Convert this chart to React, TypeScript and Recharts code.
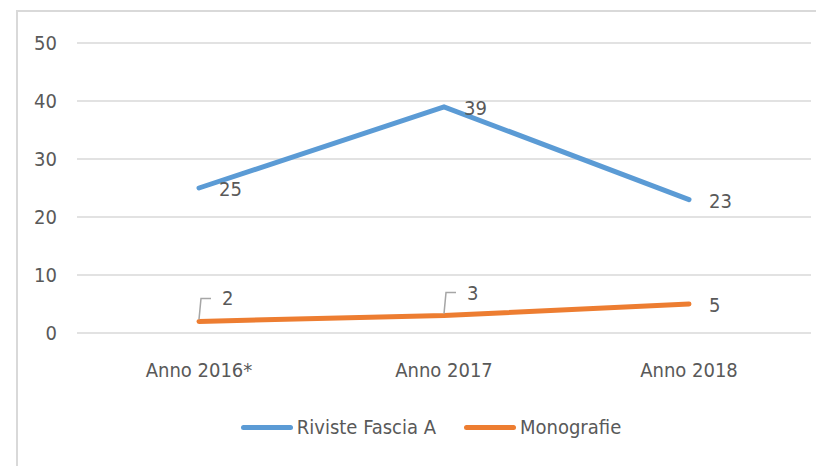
import { LineChart, Line, XAxis, YAxis, CartesianGrid, Legend } from "recharts";

const years = ["Anno 2016*", "Anno 2017", "Anno 2018"];
const riviste = [25, 39, 23];
const monografie = [2, 3, 5];
const yTicks = [0, 10, 20, 30, 40, 50];

const BLUE = "#5b9bd5";
const ORANGE = "#ed7d31";
const TEXT = "#595959";
const GRID = "#d9d9d9";
const FONT = "'DejaVu Sans Condensed', 'DejaVu Sans', sans-serif";
const FS = 20;

const data = years.map((name, i) => ({
  name,
  riviste: riviste[i],
  monografie: monografie[i],
}));

// labels to the right of the point; the first two orange ones sit higher with a leader
function makeLabel(leader: boolean) {
  return (props: any) => {
    const { x, y, value, index } = props;
    if (leader && index < 2) {
      const lx = x + 23;
      const ly = y - 23;
      return (
        <g>
          <path
            d={`M${x},${y - 2} L${x + 2},${ly} L${x + 12},${ly}`}
            fill="none"
            stroke="#a6a6a6"
            strokeWidth={1.5}
          />
          <text x={lx} y={ly} dy="0.35em" fill={TEXT} fontSize={FS} fontFamily={FONT}>
            {value}
          </text>
        </g>
      );
    }
    return (
      <text x={x + 20} y={y + 1} dy="0.35em" fill={TEXT} fontSize={FS} fontFamily={FONT}>
        {value}
      </text>
    );
  };
}

function LegendBox() {
  const items = [
    { label: "Riviste Fascia A", color: BLUE },
    { label: "Monografie", color: ORANGE },
  ];
  return (
    <div style={{ display: "flex", justifyContent: "center", gap: 28, fontFamily: FONT, fontSize: FS, color: TEXT, paddingLeft: 46 }}>
      {items.map((it) => (
        <div key={it.label} style={{ display: "flex", alignItems: "center" }}>
          <span style={{ width: 52, height: 5, borderRadius: 3, background: it.color, marginRight: 4 }} />
          <span>{it.label}</span>
        </div>
      ))}
    </div>
  );
}

export default function App() {
  return (
    <div style={{ position: "absolute", left: 0, top: 0, width: 816, height: 466, background: "#fff", overflow: "hidden" }}>
      <div
        style={{
          position: "absolute",
          left: 16,
          top: 10,
          width: 820,
          height: 480,
          border: `2px solid ${GRID}`,
        }}
      />
      <div style={{ position: "absolute", left: 0, top: 0 }}>
        <LineChart width={816} height={466} data={data} margin={{ top: 43, right: 5, left: 0, bottom: 0 }}>
          <CartesianGrid vertical={false} stroke={GRID} strokeWidth={1.5} />
          <XAxis
            dataKey="name"
            axisLine={false}
            tickLine={false}
            padding={{ left: 122, right: 122 }}
            tick={{ fill: TEXT, fontSize: FS, fontFamily: FONT }}
            tickMargin={24}
            height={133}
          />
          <YAxis
            width={77}
            domain={[0, 50]}
            ticks={yTicks}
            axisLine={false}
            tickLine={false}
            tick={{ fill: TEXT, fontSize: FS, fontFamily: FONT }}
            tickMargin={14}
          />
          <Legend
            verticalAlign="bottom"
            content={() => <LegendBox />}
            wrapperStyle={{ top: 415, bottom: "auto", height: 0, left: 0, width: 816 }}
            height={0}
          />
          <Line
            dataKey="riviste"
            name="Riviste Fascia A"
            stroke={BLUE}
            strokeWidth={5}
            strokeLinecap="round"
            dot={false}
            isAnimationActive={false}
            label={makeLabel(false)}
          />
          <Line
            dataKey="monografie"
            name="Monografie"
            stroke={ORANGE}
            strokeWidth={5}
            strokeLinecap="round"
            dot={false}
            isAnimationActive={false}
            label={makeLabel(true)}
          />
        </LineChart>
      </div>
    </div>
  );
}
